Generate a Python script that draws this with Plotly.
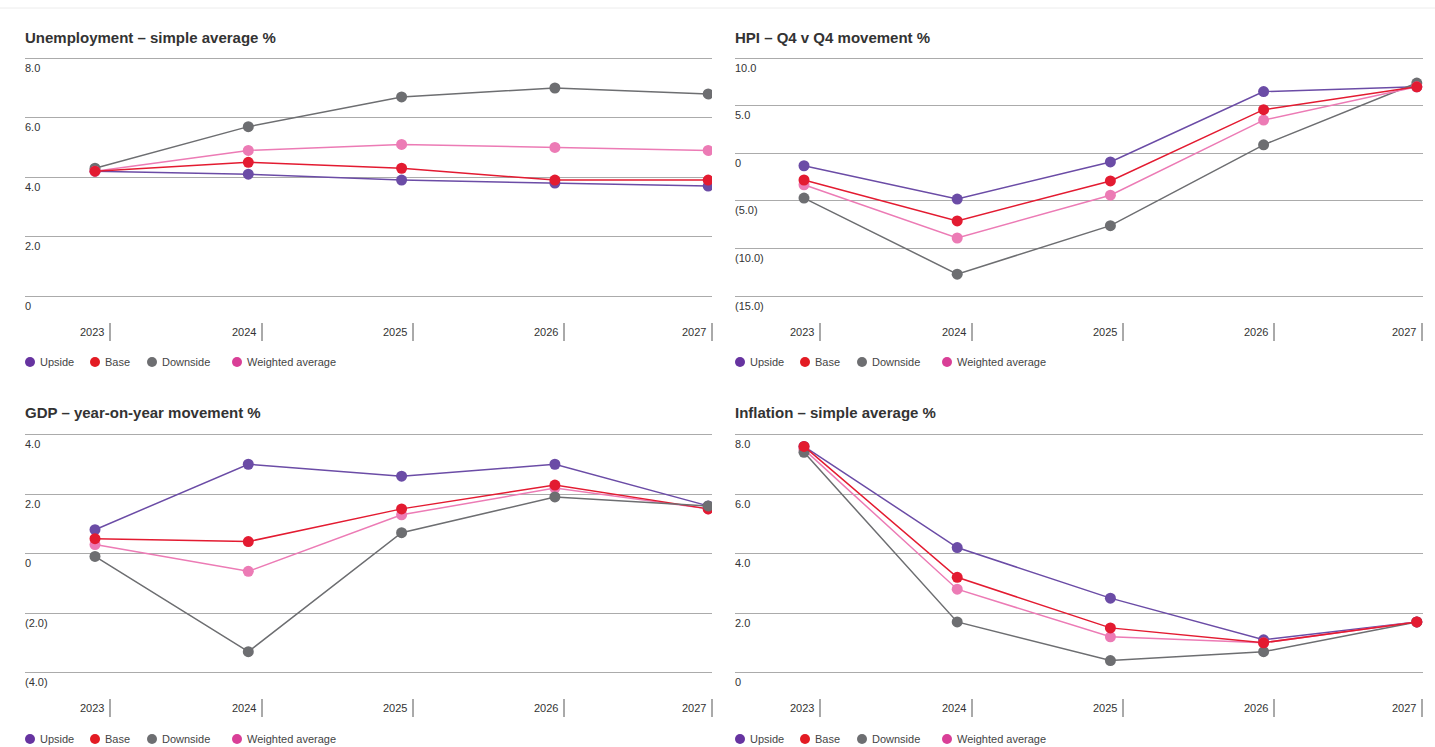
import plotly.graph_objects as go

# ---- data -------------------------------------------------------------
years = ["2023", "2024", "2025", "2026", "2027"]
series_names = ["Upside", "Base", "Downside", "Weighted average"]

unemp_upside = [4.2, 4.1, 3.9, 3.8, 3.7]
unemp_base = [4.2, 4.5, 4.3, 3.9, 3.9]
unemp_downside = [4.3, 5.7, 6.7, 7.0, 6.8]
unemp_weighted = [4.2, 4.9, 5.1, 5.0, 4.9]

hpi_upside = [-1.3, -4.8, -0.9, 6.5, 7.0]
hpi_base = [-2.8, -7.1, -2.9, 4.6, 7.0]
hpi_downside = [-4.7, -12.7, -7.6, 0.9, 7.4]
hpi_weighted = [-3.3, -8.9, -4.4, 3.5, 7.0]

gdp_upside = [0.8, 3.0, 2.6, 3.0, 1.6]
gdp_base = [0.5, 0.4, 1.5, 2.3, 1.5]
gdp_downside = [-0.1, -3.3, 0.7, 1.9, 1.6]
gdp_weighted = [0.3, -0.6, 1.3, 2.2, 1.5]

infl_upside = [7.6, 4.2, 2.5, 1.1, 1.7]
infl_base = [7.6, 3.2, 1.5, 1.0, 1.7]
infl_downside = [7.4, 1.7, 0.4, 0.7, 1.7]
infl_weighted = [7.5, 2.8, 1.2, 1.0, 1.7]

unemp_ticks = [0, 2, 4, 6, 8]
unemp_ticktext = ["0", "2.0", "4.0", "6.0", "8.0"]
hpi_ticks = [-15, -10, -5, 0, 5, 10]
hpi_ticktext = ["(15.0)", "(10.0)", "(5.0)", "0", "5.0", "10.0"]
gdp_ticks = [-4, -2, 0, 2, 4]
gdp_ticktext = ["(4.0)", "(2.0)", "0", "2.0", "4.0"]
infl_ticks = [0, 2, 4, 6, 8]
infl_ticktext = ["0", "2.0", "4.0", "6.0", "8.0"]

# ---- styling ----------------------------------------------------------
W, H = 1435, 747
FONT = "Liberation Sans, Arial, sans-serif"
TEXT = "#333333"
GRID = "#ababab"
line_colors = {"Upside": "#6b4ca6", "Base": "#e31b31",
               "Downside": "#6d6e71", "Weighted average": "#ec7bb5"}
legend_colors = {"Upside": "#6633a0", "Base": "#e31b23",
                 "Downside": "#6d6e71", "Weighted average": "#d93f97"}
# horizontal offsets (px) of the category dividers and legend dots
DIVIDER_OFFSETS = [85, 237, 388, 539, 687]
LEGEND_OFFSETS = [5, 70, 127, 212]


def fx(px):
    return px / W


def fy(py):
    return 1 - py / H


panels = [
    dict(title="Unemployment – simple average %",
         series={"Upside": unemp_upside, "Base": unemp_base,
                 "Downside": unemp_downside, "Weighted average": unemp_weighted},
         order=["Upside", "Downside", "Weighted average", "Base"],
         ticks=unemp_ticks, ticktext=unemp_ticktext,
         left=25, right=712, first=95, step=153.3,
         top=58.3, bottom=296, title_y=38, xlab_y=332, leg_y=362),
    dict(title="HPI – Q4 v Q4 movement %",
         series={"Upside": hpi_upside, "Base": hpi_base,
                 "Downside": hpi_downside, "Weighted average": hpi_weighted},
         order=["Upside", "Downside", "Weighted average", "Base"],
         ticks=hpi_ticks, ticktext=hpi_ticktext,
         left=735, right=1423, first=804, step=153.2,
         top=58.3, bottom=296, title_y=38, xlab_y=332, leg_y=362),
    dict(title="GDP – year-on-year movement %",
         series={"Upside": gdp_upside, "Base": gdp_base,
                 "Downside": gdp_downside, "Weighted average": gdp_weighted},
         order=["Upside", "Weighted average", "Base", "Downside"],
         ticks=gdp_ticks, ticktext=gdp_ticktext,
         left=25, right=712, first=95, step=153.3,
         top=434.5, bottom=672.5, title_y=412, xlab_y=708, leg_y=739),
    dict(title="Inflation – simple average %",
         series={"Upside": infl_upside, "Base": infl_base,
                 "Downside": infl_downside, "Weighted average": infl_weighted},
         order=["Upside", "Weighted average", "Downside", "Base"],
         ticks=infl_ticks, ticktext=infl_ticktext,
         left=735, right=1423, first=804, step=153.2,
         top=434.5, bottom=672.5, title_y=412, xlab_y=708, leg_y=739),
]

fig = go.Figure()
annotations = []
shapes = [dict(type="line", xref="paper", yref="paper", x0=0, x1=1,
               y0=fy(8), y1=fy(8), line=dict(color="#ececec", width=1))]

PAD_TOP = 4      # room above the top gridline
PAD_BOTTOM = 18  # room below the bottom gridline for its label
xpos = list(range(len(years)))

for i, p in enumerate(panels, start=1):
    xa = "x" if i == 1 else f"x{i}"
    ya = "y" if i == 1 else f"y{i}"
    xkey = "xaxis" if i == 1 else f"xaxis{i}"
    ykey = "yaxis" if i == 1 else f"yaxis{i}"

    ymin, ymax = min(p["ticks"]), max(p["ticks"])
    scale = (p["bottom"] - p["top"]) / (ymax - ymin)
    yr = [ymin - PAD_BOTTOM / scale, ymax + PAD_TOP / scale]
    xr = [-(p["first"] - p["left"]) / p["step"], (p["right"] - p["first"]) / p["step"]]

    fig.update_layout({
        xkey: dict(domain=[fx(p["left"]), fx(p["right"])], range=xr,
                   showgrid=False, zeroline=False, showline=False,
                   showticklabels=False, ticks="", anchor=ya, fixedrange=True),
        ykey: dict(domain=[fy(p["bottom"] + PAD_BOTTOM), fy(p["top"] - PAD_TOP)],
                   range=yr, tickvals=p["ticks"], ticktext=p["ticktext"],
                   ticklabelposition="inside bottom",
                   ticklabelshift=2, ticklabelstandoff=-3,
                   showgrid=True, gridcolor=GRID, gridwidth=1.3,
                   zeroline=False, showline=False, ticks="",
                   tickfont=dict(family=FONT, size=11, color=TEXT),
                   anchor=xa, fixedrange=True),
    })

    for name in p["order"]:
        fig.add_trace(go.Scatter(
            x=xpos, y=p["series"][name], mode="lines+markers", name=name,
            xaxis=xa, yaxis=ya, showlegend=False,
            line=dict(color=line_colors[name], width=1.5),
            marker=dict(color=line_colors[name], size=11),
            hovertemplate="%{y:.1f}<extra>" + name + "</extra>",
        ))

    # panel title
    annotations.append(dict(
        text=f"<b>{p['title']}</b>", xref="paper", yref="paper",
        x=fx(p["left"]), y=fy(p["title_y"]), xanchor="left", yanchor="middle",
        xshift=-2, showarrow=False, font=dict(family=FONT, size=15, color=TEXT)))

    # category labels, right-aligned against a short divider
    for yr_label, off in zip(years, DIVIDER_OFFSETS):
        tx = fx(p["left"] + off)
        annotations.append(dict(
            text=yr_label, xref="paper", yref="paper", x=tx, y=fy(p["xlab_y"]),
            xanchor="right", yanchor="middle", xshift=-4, showarrow=False,
            font=dict(family=FONT, size=11, color=TEXT)))
        shapes.append(dict(
            type="line", xref="paper", yref="paper", x0=tx, x1=tx,
            y0=fy(p["xlab_y"] - 9), y1=fy(p["xlab_y"] + 9),
            line=dict(color="#555555", width=1)))

    # legend row
    for name, off in zip(series_names, LEGEND_OFFSETS):
        lx = p["left"] + off
        shapes.append(dict(
            type="circle", xref="paper", yref="paper",
            xsizemode="pixel", ysizemode="pixel",
            xanchor=fx(lx), yanchor=fy(p["leg_y"]),
            x0=-5, x1=5, y0=-5, y1=5,
            fillcolor=legend_colors[name], line=dict(width=0)))
        annotations.append(dict(
            text=name, xref="paper", yref="paper",
            x=fx(lx + 8), y=fy(p["leg_y"]), xanchor="left", yanchor="middle",
            showarrow=False, font=dict(family=FONT, size=11, color="#444444")))

fig.update_layout(
    width=W, height=H,
    margin=dict(l=0, r=0, t=0, b=0),
    paper_bgcolor="white", plot_bgcolor="white",
    showlegend=False,
    annotations=annotations, shapes=shapes,
    font=dict(family=FONT, color=TEXT),
)

fig.write_html("out.html")
